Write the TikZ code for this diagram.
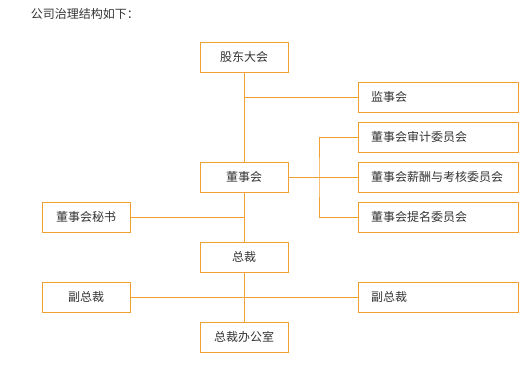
\documentclass[tikz,border=0pt]{standalone}
\usepackage{fontspec}
\setmainfont{Noto Sans CJK SC}
\usepackage{xcolor}
\definecolor{boxline}{HTML}{F0A030}
\definecolor{txt}{HTML}{333333}

\begin{document}
\begin{tikzpicture}[x=1pt, y=-1pt, line width=1pt,
    font=\fontsize{12}{14}\selectfont, text=txt,
    box/.style={rectangle, draw=boxline, minimum height=30pt, minimum width=88pt, inner sep=0pt, align=center},
    wbox/.style={rectangle, draw=boxline, minimum height=30pt, inner xsep=13pt, inner ysep=0pt, text width=134pt, align=left},
    link/.style={draw=boxline}]
  \useasboundingbox (0,0) rectangle (530,381);
  \node[anchor=west] (title) at (27,14) {公司治理结构如下：};

  \node[box] (gd) at (244,57) {股东大会};
  \node[wbox] (jsh) at (438,97) {监事会};
  \node[wbox] (sj) at (438,137) {董事会审计委员会};
  \node[box] (dsh) at (244,177) {董事会};
  \node[wbox] (xc) at (438,177) {董事会薪酬与考核委员会};
  \node[wbox] (tm) at (438,217) {董事会提名委员会};
  \node[box] (ms) at (86,217) {董事会秘书};
  \node[box] (zc) at (244,257) {总裁};
  \node[box] (fzl) at (86,297) {副总裁};
  \node[wbox] (fzr) at (438,297) {副总裁};
  \node[box] (zb) at (244,337) {总裁办公室};
  \coordinate (br) at (319,177);

  % lines
  \draw[link] (gd) -- (dsh);
  \draw[link] (gd |- jsh) -- (jsh);
  \draw[link] (dsh) -- (xc);
  \draw[link] (sj.west) -| (br) |- (tm.west);
  \draw[link] (dsh) -- (zc);
  \draw[link] (ms) -- (dsh |- ms);
  \draw[link] (zc) -- (zb);
  \draw[link] (fzl) -- (fzr);
\end{tikzpicture}
\end{document}
